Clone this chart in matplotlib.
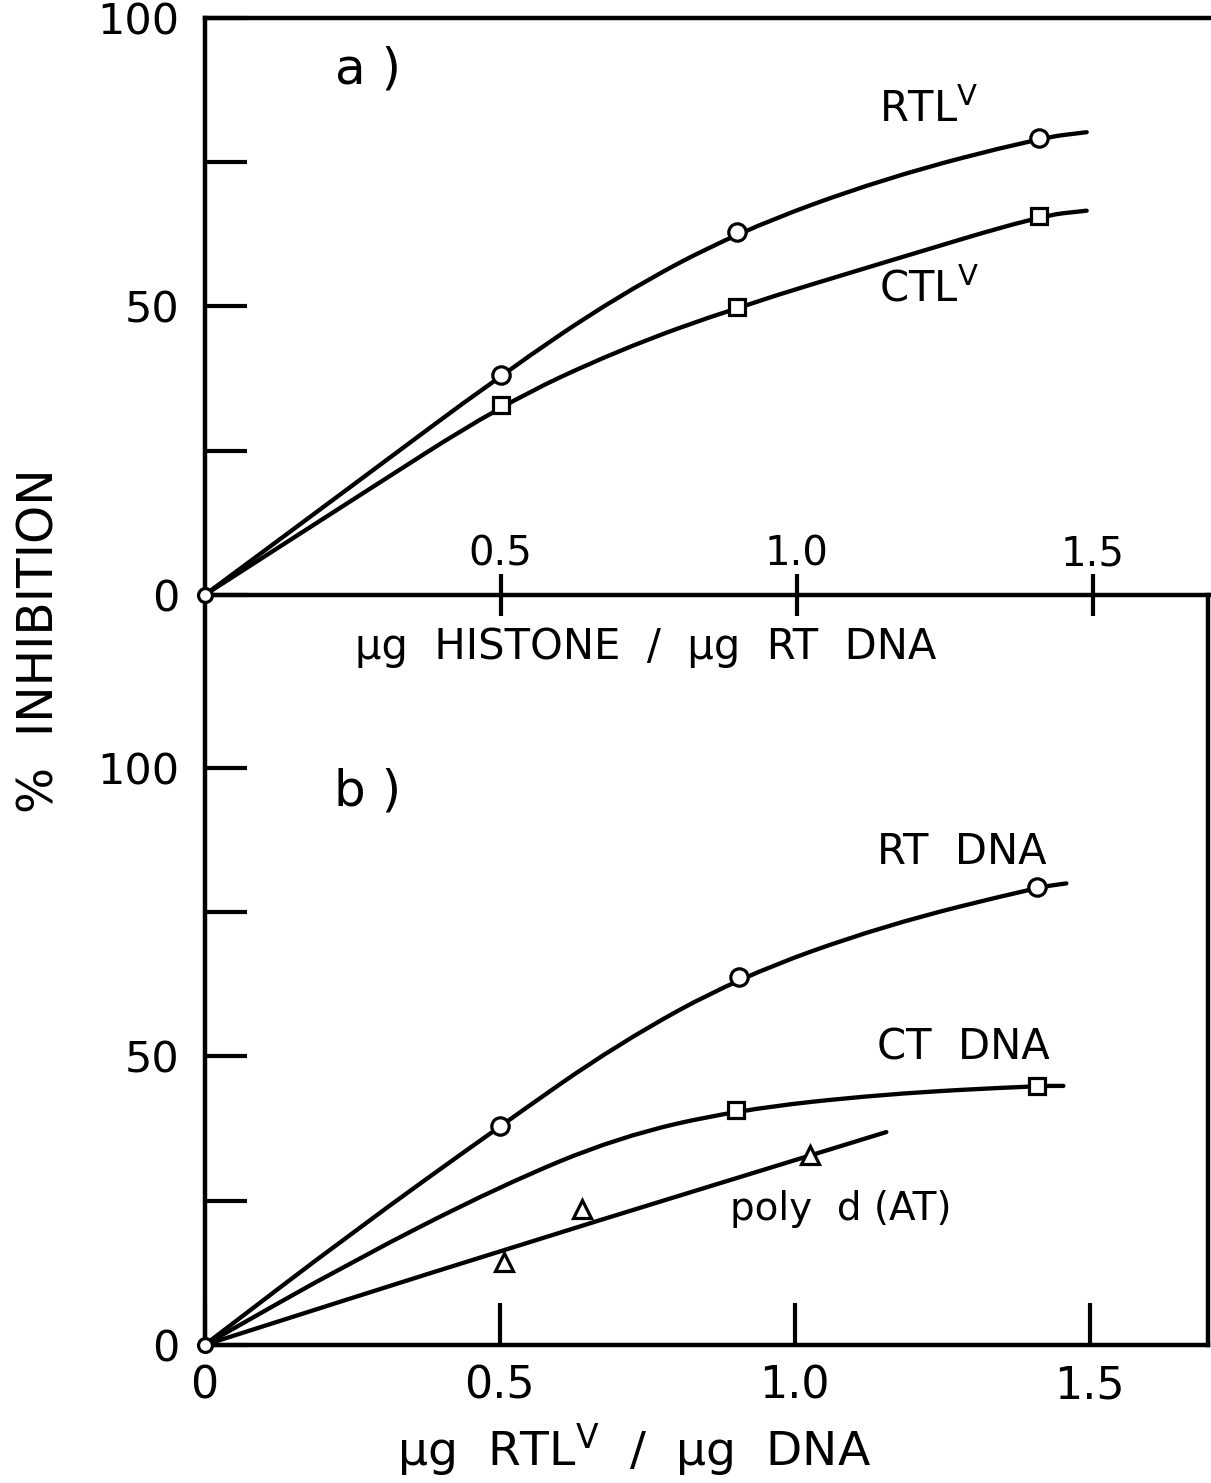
import matplotlib

matplotlib.use('agg')

import matplotlib.pyplot as plt
from matplotlib.path import Path
from matplotlib.patches import PathPatch

plt.rcParams['font.family'] = ['DejaVu Sans']

# panel a) measured points
x_pts_a = [0.5, 0.9, 1.41]
rtlv_pts = [38.1, 62.9, 79.2]
ctlv_pts = [32.9, 49.9, 65.7]
# hand-drawn curves
x_curve_a = [0.0, 0.25, 0.5, 0.7, 0.9, 1.15, 1.41, 1.49]
rtlv_curve = [0.0, 19.0, 38.1, 52.0, 62.9, 72.3, 79.2, 80.2]
ctlv_curve = [0.0, 16.5, 32.9, 42.5, 49.9, 57.7, 65.7, 66.6]

# panel b) measured points
x_rt = [0.5, 0.905, 1.41]
rt_pts = [37.9, 63.7, 79.3]
x_ct = [0.9, 1.41]
ct_pts = [40.7, 44.9]
x_at = [0.508, 0.64, 1.025]
at_pts = [14.4, 23.5, 33.0]
x_curve_rt = [0.0, 0.25, 0.5, 0.7, 0.905, 1.15, 1.41, 1.46]
rt_curve = [0.0, 19.5, 37.9, 52.2, 63.7, 72.7, 79.3, 80.0]
x_curve_ct = [0.0, 0.25, 0.5, 0.7, 0.9, 1.15, 1.41, 1.455]
ct_curve = [0.0, 14.5, 27.5, 36.0, 40.7, 43.5, 44.9, 44.9]
x_curve_at = [0.0, 0.5, 1.155]
at_curve = [0.0, 16.3, 36.9]


def smooth_curve(ax, xs, ys, lw=3.1):
    # quadratic bezier through the midpoints, like a french-curve drawing
    pts = list(zip(xs, ys))
    verts = [pts[0]]
    codes = [Path.MOVETO]
    if len(pts) > 2:
        mid = ((pts[0][0] + pts[1][0]) / 2, (pts[0][1] + pts[1][1]) / 2)
        verts.append(mid)
        codes.append(Path.LINETO)
        for i in range(1, len(pts) - 1):
            nxt = ((pts[i][0] + pts[i + 1][0]) / 2, (pts[i][1] + pts[i + 1][1]) / 2)
            verts += [pts[i], nxt]
            codes += [Path.CURVE3, Path.CURVE3]
    verts.append(pts[-1])
    codes.append(Path.LINETO)
    ax.add_patch(PathPatch(Path(verts, codes), fill=False, lw=lw,
                           edgecolor='k', capstyle='round', zorder=2))


fig = plt.figure(figsize=(12.11, 14.83), dpi=100)
ax_b = fig.add_axes([0.169, 0.0931, 0.8285, 0.5057])
ax_a = fig.add_axes([0.169, 0.5988, 0.831, 0.3891])
ax_a.patch.set_visible(False)
ax_b.patch.set_visible(False)

mk = dict(mfc='white', mec='k', mew=2.3, ls='none', zorder=3)
txt = 30

# ---- panel a
smooth_curve(ax_a, x_curve_a, rtlv_curve)
smooth_curve(ax_a, x_curve_a, ctlv_curve)
ax_a.plot(x_pts_a, rtlv_pts, marker='o', ms=12.5, **mk)
ax_a.plot(x_pts_a, ctlv_pts, marker='s', ms=11.5, **mk)
ax_a.plot([0], [0], marker='o', ms=10, clip_on=False, **mk)
ax_a.set_xlim(0, 1.70)
ax_a.set_ylim(0, 100)
ax_a.spines['right'].set_visible(False)
for s in ['left', 'top', 'bottom']:
    ax_a.spines[s].set_linewidth(3.2)
ax_a.set_yticks([0, 25, 50, 75, 100])
ax_a.set_yticklabels(['0', '', '50', '', '100'])
ax_a.set_xticks([0.5, 1.0, 1.5])
ax_a.set_xticklabels([])
ax_a.tick_params(axis='y', direction='in', length=30, width=3, pad=18,
                 labelsize=31)
ax_a.tick_params(axis='x', direction='inout', length=30, width=3)
for xv, lab in zip([0.5, 1.0, 1.5], ['0.5', '1.0', '1.5']):
    ax_a.text(xv, 3.6, lab, ha='center', va='bottom', fontsize=29)
ax_a.text(0.22, 91, 'a )', fontsize=36, ha='left', va='center')
ax_a.text(1.14, 84, r'RTL$^{\mathregular{V}}$', fontsize=txt, ha='left', va='center')
ax_a.text(1.14, 53, r'CTL$^{\mathregular{V}}$', fontsize=txt, ha='left', va='center')
ax_a.text(0.745, -9, 'µg  HISTONE  /  µg  RT  DNA', fontsize=30, ha='center',
          va='center', clip_on=False)

# ---- panel b
smooth_curve(ax_b, x_curve_rt, rt_curve)
smooth_curve(ax_b, x_curve_ct, ct_curve)
smooth_curve(ax_b, x_curve_at, at_curve)
ax_b.plot(x_rt, rt_pts, marker='o', ms=12.5, **mk)
ax_b.plot(x_ct, ct_pts, marker='s', ms=11.5, **mk)
ax_b.plot(x_at, at_pts, marker='^', ms=13, **mk)
ax_b.plot([0], [0], marker='o', ms=10, clip_on=False, **mk)
ax_b.set_xlim(0, 1.70)
ax_b.set_ylim(0, 130)
ax_b.spines['top'].set_visible(False)
for s in ['left', 'right', 'bottom']:
    ax_b.spines[s].set_linewidth(3.2)
ax_b.set_yticks([0, 25, 50, 75, 100])
ax_b.set_yticklabels(['0', '', '50', '', '100'])
ax_b.set_xticks([0, 0.5, 1.0, 1.5])
ax_b.set_xticklabels(['0', '0.5', '1.0', '1.5'])
ax_b.tick_params(axis='y', direction='in', length=30, width=3, pad=18,
                 labelsize=31)
ax_b.tick_params(axis='x', direction='in', length=30, width=3, pad=14,
                 labelsize=32)
ax_b.text(0.22, 96, 'b )', fontsize=36, ha='left', va='center')
ax_b.text(1.14, 85.5, 'RT  DNA', fontsize=txt, ha='left', va='center')
ax_b.text(1.14, 51.5, 'CT  DNA', fontsize=txt, ha='left', va='center')
ax_b.text(0.89, 23.5, 'poly  d (AT)', fontsize=28, ha='left', va='center')

fig.text(0.524, 0.022, r'µg  RTL$^{\mathregular{V}}$  /  µg  DNA', fontsize=34,
         ha='center', va='center')
fig.text(0.033, 0.568, '%  INHIBITION', rotation=90, fontsize=35,
         ha='center', va='center')

fig.savefig('out.png', dpi=100)
